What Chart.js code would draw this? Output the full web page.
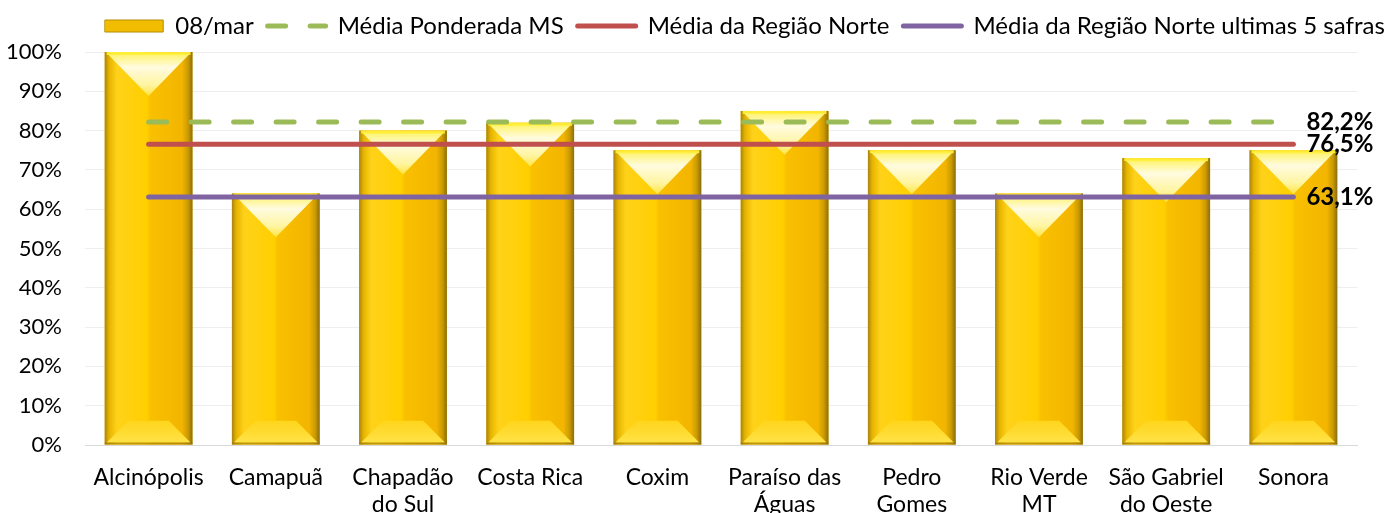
<!DOCTYPE html>
<html>
<head>
<meta charset="utf-8">
<script src="https://cdn.jsdelivr.net/npm/chart.js@4.4.1/dist/chart.umd.min.js"></script>
<style>
  html, body { margin: 0; padding: 0; background: #fff; }
  #wrap { width: 1392px; height: 513px; }
</style>
</head>
<body>
<div id="wrap"><canvas id="colheitaChart"></canvas></div>
<script>
// municipios
var categories = [
    'Alcinópolis',
    'Camapuã',
    ['Chapadão', 'do Sul'],
    'Costa Rica',
    'Coxim',
    ['Paraíso das', 'Águas'],
    ['Pedro', 'Gomes'],
    ['Rio Verde', 'MT'],
    ['São Gabriel', 'do Oeste'],
    'Sonora'
];
var colheita08mar = [100, 64, 80, 82, 75, 85, 75, 64, 73, 75];
var mediaPonderadaMS = [82.2, 82.2, 82.2, 82.2, 82.2, 82.2, 82.2, 82.2, 82.2, 82.2];
var mediaRegiaoNorte = [76.5, 76.5, 76.5, 76.5, 76.5, 76.5, 76.5, 76.5, 76.5, 76.5];
var mediaNorte5Safras = [63.1, 63.1, 63.1, 63.1, 63.1, 63.1, 63.1, 63.1, 63.1, 63.1];
var yTicks = [0, 10, 20, 30, 40, 50, 60, 70, 80, 90, 100];

Chart.defaults.font.family = 'Lato';
Chart.defaults.font.size = 22;
Chart.defaults.color = '#000';

// gold bevel look for the bars, drawn over the plain bar before the lines
const bevelBars = {
    id: 'bevelBars',
    afterDatasetDraw: function(chart, args) {
        if (args.index !== 0) return;
        var ctx = chart.ctx;
        args.meta.data.forEach(function(bar) {
            var p = bar.getProps(['x', 'y', 'base', 'width'], true);
            var l = p.x - p.width / 2, r = p.x + p.width / 2;
            var t = p.y, b = p.base, w = p.width;
            ctx.save();
            var g = ctx.createLinearGradient(l, 0, r, 0);
            g.addColorStop(0, '#a88410');
            g.addColorStop(0.05, '#e6b400');
            g.addColorStop(0.14, '#ffd21a');
            g.addColorStop(0.48, '#ffcf00');
            g.addColorStop(0.52, '#f9c000');
            g.addColorStop(0.88, '#f3b500');
            g.addColorStop(0.95, '#c99a00');
            g.addColorStop(1, '#8a6d12');
            ctx.fillStyle = g;
            ctx.fillRect(l, t, w, b - t);

            // top face
            var d = Math.min(w / 2, (b - t) * 0.6);
            var tg = ctx.createLinearGradient(0, t, 0, t + d);
            tg.addColorStop(0, '#fff25a');
            tg.addColorStop(0.35, '#fffbe0');
            tg.addColorStop(0.75, '#fff5a0');
            tg.addColorStop(1, '#ffe440');
            ctx.fillStyle = tg;
            ctx.beginPath();
            ctx.moveTo(l + 3, t + 2);
            ctx.lineTo(r - 3, t + 2);
            ctx.lineTo(p.x, t + d);
            ctx.closePath();
            ctx.fill();
            ctx.fillStyle = 'rgba(255, 240, 60, 0.9)';
            ctx.fillRect(l + 2, t, w - 4, 3);

            // bottom face
            var h = Math.min(w * 0.27, (b - t) / 3);
            var bg = ctx.createLinearGradient(0, b - h, 0, b);
            bg.addColorStop(0, '#ffd51c');
            bg.addColorStop(1, '#ffe34a');
            ctx.fillStyle = bg;
            ctx.beginPath();
            ctx.moveTo(l + 2, b - 2);
            ctx.lineTo(r - 2, b - 2);
            ctx.lineTo(r - h, b - h);
            ctx.lineTo(l + h, b - h);
            ctx.closePath();
            ctx.fill();
            ctx.fillStyle = 'rgba(150, 115, 10, 0.6)';
            ctx.fillRect(l, b - 2, w, 2);
            ctx.restore();
        });
    }
};

// value at the end of each average line
const endLabels = {
    id: 'endLabels',
    afterDatasetsDraw: function(chart) {
        var ctx = chart.ctx;
        ctx.save();
        ctx.font = 'bold 24px Lato';
        ctx.fillStyle = '#000';
        ctx.textAlign = 'left';
        ctx.textBaseline = 'middle';
        chart.data.datasets.forEach(function(ds, i) {
            if (ds.type !== 'line') return;
            var pts = chart.getDatasetMeta(i).data;
            var last = pts[pts.length - 1];
            var v = ds.data[ds.data.length - 1];
            ctx.fillText(v.toFixed(1).replace('.', ',') + '%', last.x + 13, last.y);
        });
        ctx.restore();
    }
};

// legend sizing / placement like the original sheet
const legendPlace = {
    id: 'legendPlace',
    afterInit: function(chart) {
        var lg = chart.legend;
        var fit = lg.fit;
        lg.fit = function() {
            this.maxWidth = 1500;
            fit.call(this);
            this.height = 52;
        };
    },
    afterLayout: function(chart) {
        chart.legend.left = 80;
        chart.legend.right = 1410;
        chart.legend.width = 1330;
    }
};

var canvasColheita = document.getElementById('colheitaChart');
const configColheita = {
    type: 'bar',
    data: {
        labels: categories,
        datasets: [
            {
                type: 'bar',
                label: '08/mar',
                data: colheita08mar,
                backgroundColor: '#f5c000',
                barPercentage: 0.69,
                categoryPercentage: 1,
                order: 1
            },
            {
                type: 'line',
                label: 'Média Ponderada MS',
                data: mediaPonderadaMS,
                borderColor: '#9bbb59',
                borderWidth: 5,
                borderDash: [18, 24.5],
                borderCapStyle: 'round',
                pointRadius: 0,
                order: 0
            },
            {
                type: 'line',
                label: 'Média da Região Norte',
                data: mediaRegiaoNorte,
                borderColor: '#c0504d',
                borderWidth: 5,
                borderCapStyle: 'round',
                pointRadius: 0,
                order: 0
            },
            {
                type: 'line',
                label: 'Média da Região Norte ultimas 5 safras',
                data: mediaNorte5Safras,
                borderColor: '#8064a2',
                borderWidth: 5,
                borderCapStyle: 'round',
                pointRadius: 0,
                order: 0
            }
        ]
    },
    options: {
        responsive: true,
        maintainAspectRatio: false,
        animation: false,
        layout: {
            padding: { top: 0, left: 0, right: 35, bottom: 0 }
        },
        plugins: {
            tooltip: { enabled: false },
            legend: {
                position: 'top',
                labels: {
                    usePointStyle: true,
                    pointStyleWidth: 58,
                    boxHeight: 12,
                    padding: 14,
                    color: '#000',
                    font: { size: 24 },
                    generateLabels: function(chart) {
                        return chart.data.datasets.map(function(ds, i) {
                            return {
                                text: ds.label,
                                fillStyle: ds.type === 'bar' ? '#f2bd00' : ds.borderColor,
                                strokeStyle: ds.type === 'bar' ? '#b58c00' : ds.borderColor,
                                lineWidth: ds.type === 'bar' ? 1 : 5,
                                lineDash: ds.borderDash || [],
                                lineCap: 'round',
                                pointStyle: ds.type === 'bar' ? 'rect' : 'line',
                                hidden: false,
                                datasetIndex: i
                            };
                        });
                    }
                }
            }
        },
        scales: {
            x: {
                grid: { display: false, drawTicks: false },
                border: { color: '#d9d9d9', width: 1 },
                ticks: { padding: 19, maxRotation: 0, autoSkip: false, font: { size: 23, lineHeight: 1.18 } },
                afterFit: function(scale) { scale.height = 68; }
            },
            y: {
                min: 0,
                max: 100,
                afterBuildTicks: function(scale) {
                    scale.ticks = yTicks.map(function(v) { return { value: v }; });
                },
                grid: { color: '#eeeeee', lineWidth: 1, drawTicks: false },
                border: { display: false },
                ticks: {
                    padding: 23,
                    callback: function(v) { return v + '%'; }
                },
                afterFit: function(scale) { scale.width = 85; }
            }
        }
    },
    plugins: [bevelBars, endLabels, legendPlace]
};
var ColheitaChart = new Chart(canvasColheita, configColheita);
</script>
</body>
</html>
